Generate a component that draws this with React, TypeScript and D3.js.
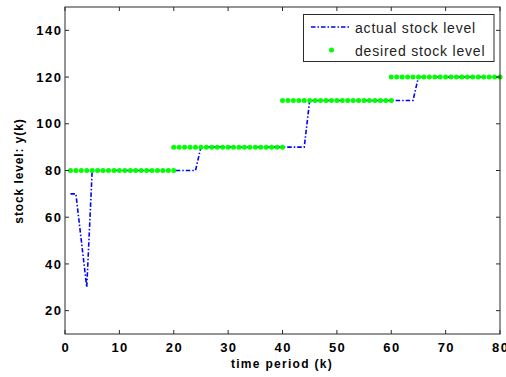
import React from 'react';
import * as d3 from 'd3';

const xTicks = [0, 10, 20, 30, 40, 50, 60, 70, 80];
const yTicks = [20, 40, 60, 80, 100, 120, 140];

const actualK = [
  1, 2, 3, 4, 5, 6, 7, 8, 9, 10, 11, 12, 13, 14, 15, 16, 17, 18, 19, 20,
  21, 22, 23, 24, 25, 26, 27, 28, 29, 30, 31, 32, 33, 34, 35, 36, 37, 38, 39, 40,
  41, 42, 43, 44, 45, 46, 47, 48, 49, 50, 51, 52, 53, 54, 55, 56, 57, 58, 59, 60,
  61, 62, 63, 64, 65, 66, 67, 68, 69, 70, 71, 72, 73, 74, 75, 76, 77, 78, 79, 80,
];
const actualValues = [
  70, 70, 50, 30, 80, 80, 80, 80, 80, 80, 80, 80, 80, 80, 80, 80, 80, 80, 80, 80,
  80, 80, 80, 80, 90, 90, 90, 90, 90, 90, 90, 90, 90, 90, 90, 90, 90, 90, 90, 90,
  90, 90, 90, 90, 110, 110, 110, 110, 110, 110, 110, 110, 110, 110, 110, 110, 110, 110, 110, 110,
  110, 110, 110, 110, 120, 120, 120, 120, 120, 120, 120, 120, 120, 120, 120, 120, 120, 120, 120, 120,
];

const desiredK = [
  1, 2, 3, 4, 5, 6, 7, 8, 9, 10, 11, 12, 13, 14, 15, 16, 17, 18, 19, 20,
  20, 21, 22, 23, 24, 25, 26, 27, 28, 29, 30, 31, 32, 33, 34, 35, 36, 37, 38, 39, 40,
  40, 41, 42, 43, 44, 45, 46, 47, 48, 49, 50, 51, 52, 53, 54, 55, 56, 57, 58, 59, 60,
  60, 61, 62, 63, 64, 65, 66, 67, 68, 69, 70, 71, 72, 73, 74, 75, 76, 77, 78, 79, 80,
];
const desiredValues = [
  80, 80, 80, 80, 80, 80, 80, 80, 80, 80, 80, 80, 80, 80, 80, 80, 80, 80, 80, 80,
  90, 90, 90, 90, 90, 90, 90, 90, 90, 90, 90, 90, 90, 90, 90, 90, 90, 90, 90, 90, 90,
  110, 110, 110, 110, 110, 110, 110, 110, 110, 110, 110, 110, 110, 110, 110, 110, 110, 110, 110, 110, 110,
  120, 120, 120, 120, 120, 120, 120, 120, 120, 120, 120, 120, 120, 120, 120, 120, 120, 120, 120, 120, 120,
];

const legendLabels = ['actual stock level', 'desired stock level'];
const xLabel = 'time period (k)';
const yLabel = 'stock level: y(k)';

const FONT = '"Liberation Sans", Arial, Helvetica, sans-serif';

export default function App() {
  const W = 506;
  const H = 377;
  const left = 65, right = 500, top = 7, bottom = 334;
  const x = d3.scaleLinear().domain([0, 80]).range([left, right]);
  const y = d3.scaleLinear().domain([10, 150]).range([bottom, top]);
  const line = d3
    .line<number>()
    .x((_, i) => x(actualK[i]))
    .y((d) => y(d));
  const dash = '4.5,2,1.5,2';
  const axisColor = '#2a2a2a';
  const tl = 4;

  return (
    <svg
      width={W}
      height={H}
      style={{ position: 'absolute', left: 0, top: 0, background: '#fff' }}
      fontFamily={FONT}
    >
      <rect x={0} y={0} width={W} height={H} fill="#fff" />
      <path d={line(actualValues) || ''} fill="none" stroke="#0000ff" strokeWidth={1.6} strokeDasharray={dash} />
      {desiredValues.map((v, i) => (
        <circle key={i} cx={x(desiredK[i])} cy={y(v)} r={2.5} fill="#00ff00" />
      ))}
      <rect x={left} y={top} width={right - left} height={bottom - top} fill="none" stroke={axisColor} strokeWidth={1} />
      {xTicks.map((t) => (
        <g key={'x' + t}>
          <line x1={x(t)} x2={x(t)} y1={bottom} y2={bottom - tl} stroke={axisColor} />
          <line x1={x(t)} x2={x(t)} y1={top} y2={top + tl} stroke={axisColor} />
          <text
            x={x(t) + 0.75}
            y={352}
            textAnchor="middle"
            fontSize={13}
            fontWeight="bold"
            letterSpacing={1.5}
            fill="#000"
          >
            {t}
          </text>
        </g>
      ))}
      {yTicks.map((t) => (
        <g key={'y' + t}>
          <line x1={left} x2={left + tl} y1={y(t)} y2={y(t)} stroke={axisColor} />
          <line x1={right} x2={right - tl} y1={y(t)} y2={y(t)} stroke={axisColor} />
          <text
            x={62.5}
            y={y(t) + 4.6}
            textAnchor="end"
            fontSize={13}
            fontWeight="bold"
            letterSpacing={1.5}
            fill="#000"
          >
            {t}
          </text>
        </g>
      ))}
      <text x={282} y={368} textAnchor="middle" fontSize={12} fontWeight="bold" letterSpacing={1.3} fill="#000">
        {xLabel}
      </text>
      <text
        transform={`translate(23,171) rotate(-90)`}
        textAnchor="middle"
        fontSize={12}
        fontWeight="bold"
        letterSpacing={0.9}
        fill="#000"
      >
        {yLabel}
      </text>
      <rect x={303.5} y={14.5} width={190.5} height={47} fill="#fff" stroke={axisColor} strokeWidth={1} />
      <line x1={311} x2={351} y1={27} y2={27} stroke="#0000ff" strokeWidth={1.6} strokeDasharray={dash} />
      <text x={355} y={32.5} fontSize={14} letterSpacing={0.8} fill="#222">
        {legendLabels[0]}
      </text>
      <circle cx={331.5} cy={50} r={2.5} fill="#00ff00" />
      <text x={355} y={55.5} fontSize={14} letterSpacing={0.8} fill="#222">
        {legendLabels[1]}
      </text>
    </svg>
  );
}
